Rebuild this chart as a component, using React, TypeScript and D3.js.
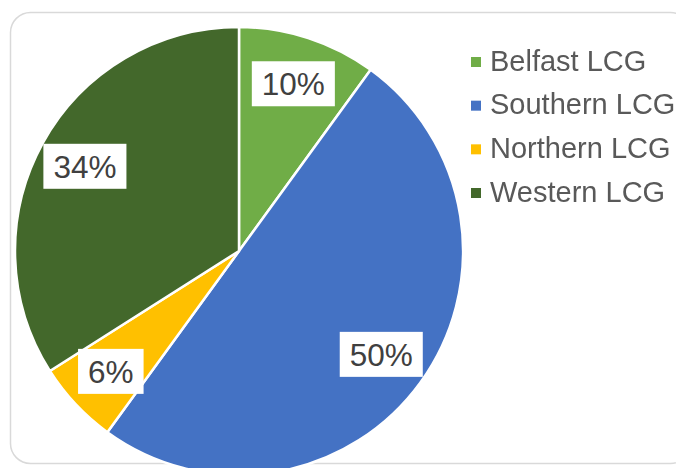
import React, { useEffect, useRef } from "react";
import * as d3 from "d3";

const categories = ["Belfast LCG", "Southern LCG", "Northern LCG", "Western LCG"];
const values = [10, 50, 6, 34];
const colors = ["#70AD47", "#4472C4", "#FFC000", "#43682B"];

function PieChart() {
  const ref = useRef<HTMLDivElement>(null);

  useEffect(() => {
    const width = 676;
    const height = 468;
    const cx = 239;
    const cy = 251;
    const radius = 224;

    d3.select(ref.current).select("svg").remove();

    const svg = d3
      .select(ref.current)
      .append("svg")
      .attr("width", width)
      .attr("height", height)
      .style("display", "block");

    // chart frame
    svg
      .append("rect")
      .attr("x", 10.5)
      .attr("y", 12.5)
      .attr("width", 680)
      .attr("height", 451)
      .attr("rx", 20)
      .attr("fill", "white")
      .attr("stroke", "#d9d9d9")
      .attr("stroke-width", 1.5);

    const g = svg.append("g").attr("transform", `translate(${cx}, ${cy})`);

    const data = categories.map((c, i) => ({ key: c, value: values[i], color: colors[i] }));
    const total = d3.sum(values);

    const pie = d3
      .pie<any>()
      .sort(null)
      .value((d) => d.value);
    const data_ready = pie(data);

    const arcGenerator = d3.arc<any>().innerRadius(0).outerRadius(radius);
    const labelArc = d3
      .arc<any>()
      .innerRadius(radius * 0.785)
      .outerRadius(radius * 0.785);

    g.selectAll("path")
      .data(data_ready)
      .enter()
      .append("path")
      .attr("d", arcGenerator)
      .attr("fill", (d) => d.data.color)
      .attr("stroke", "white")
      .attr("stroke-width", 2.5)
      .attr("stroke-linejoin", "round");

    // data labels with white boxes
    data_ready.forEach((d) => {
      const [x, y] = labelArc.centroid(d);
      const txt = Math.round((d.data.value / total) * 100) + "%";
      const label = g.append("g").attr("transform", `translate(${x}, ${y})`);
      const text = label
        .append("text")
        .attr("text-anchor", "middle")
        .attr("dy", "0.36em")
        .attr("font-family", "Liberation Sans, Arial, sans-serif")
        .attr("font-size", 31.5)
        .attr("fill", "#404040")
        .text(txt);
      const w = (text.node() as SVGTextElement).getComputedTextLength() + 20;
      label
        .insert("rect", "text")
        .attr("x", -w / 2)
        .attr("y", -22.5)
        .attr("width", w)
        .attr("height", 45)
        .attr("fill", "white");
    });

    // legend
    const legend = svg.append("g").attr("transform", "translate(471, 0)");
    const rowY = d3
      .scalePoint<string>()
      .domain(categories)
      .range([62, 193]);

    categories.forEach((c, i) => {
      const y = rowY(c)!;
      legend
        .append("rect")
        .attr("x", 0)
        .attr("y", y - 5)
        .attr("width", 10)
        .attr("height", 10)
        .attr("fill", colors[i]);
      legend
        .append("text")
        .attr("x", 19)
        .attr("y", y + 8.5)
        .attr("font-family", "Liberation Sans, Arial, sans-serif")
        .attr("font-size", 29)
        .attr("fill", "#595959")
        .text(c);
    });
  }, []);

  return <div ref={ref} style={{ position: "fixed", left: 0, top: 0 }}></div>;
}

export default function App() {
  return <PieChart />;
}
